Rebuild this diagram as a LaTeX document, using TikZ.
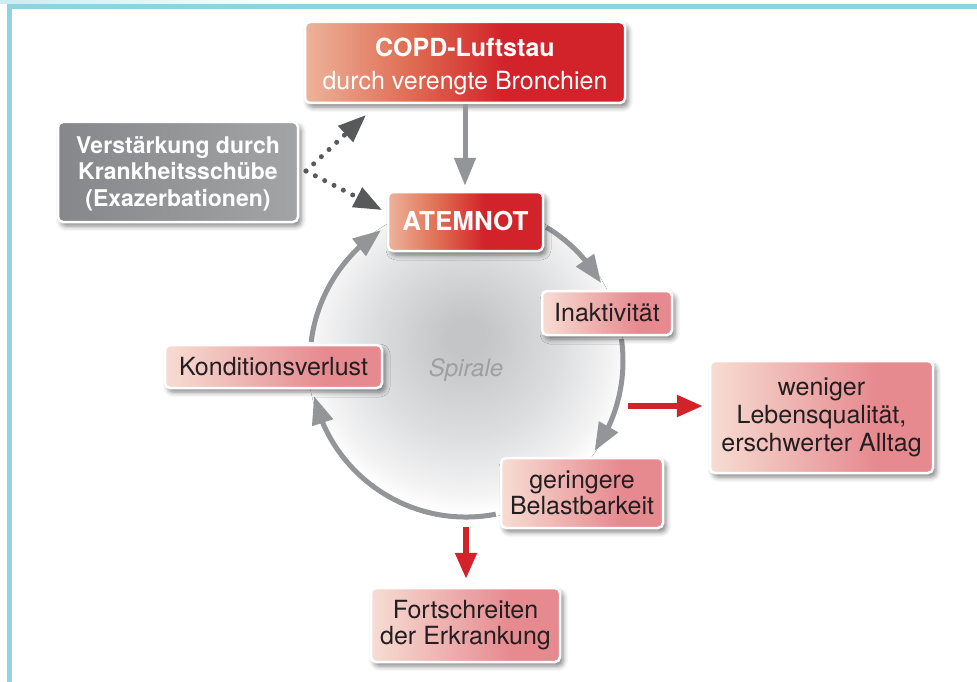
\documentclass[tikz,border=0pt]{standalone}
\usepackage{fontspec}
\setmainfont{TeX Gyre Heros}
\usetikzlibrary{arrows.meta,shadows.blur,bending,calc}
\definecolor{fb}{HTML}{8DD4E0}
\definecolor{redA}{HTML}{EDB39B}
\definecolor{redB}{HTML}{DE6A50}
\definecolor{redC}{HTML}{D2232A}
\definecolor{pinkA}{HTML}{F7DDD3}
\definecolor{pinkB}{HTML}{E68A90}
\definecolor{greyA}{HTML}{86878A}
\definecolor{greyB}{HTML}{A3A4A6}
\definecolor{arrgray}{HTML}{939598}
\definecolor{dotgray}{HTML}{58595B}
\definecolor{arrred}{HTML}{D2232A}
\definecolor{txt}{HTML}{231F20}
\definecolor{spir}{HTML}{9D9FA2}
\definecolor{discC}{HTML}{C4C5C7}
\definecolor{discM}{HTML}{DDDEDF}
\definecolor{discO}{HTML}{F3F3F4}
\pgfdeclarehorizontalshading{redsh}{100bp}{color(0bp)=(redA); color(25bp)=(redA); color(42bp)=(redB); color(56bp)=(redC); color(100bp)=(redC)}
\pgfdeclarehorizontalshading{pinksh}{100bp}{color(0bp)=(pinkA); color(25bp)=(pinkA); color(62bp)=(pinkB); color(100bp)=(pinkB)}
\pgfdeclarehorizontalshading{greysh}{100bp}{color(0bp)=(greyA); color(25bp)=(greyA); color(75bp)=(greyB); color(100bp)=(greyB)}
\pgfdeclareradialshading{discsh}{\pgfpoint{0bp}{4bp}}{color(0bp)=(discC); color(3bp)=(discC); color(15bp)=(discM); color(23bp)=(discO); color(26bp)=(white); color(50bp)=(white)}
\tikzset{
  box/.style={draw=white, line width=2.5pt, rounded corners=5pt, inner sep=0pt, align=center,
    blur shadow={shadow xshift=3pt, shadow yshift=-4pt, shadow blur radius=5pt, shadow opacity=50}},
  redbox/.style={box, shading=redsh, text=white},
  pinkbox/.style={box, shading=pinksh, text=txt, font=\fontsize{25}{26}\selectfont},
  greybox/.style={box, shading=greysh, text=white, font=\bfseries\fontsize{23}{26.5}\selectfont},
  garr/.style={draw=arrgray, line width=5pt, -{Triangle[length=28pt,width=21pt]}},
  rarr/.style={draw=arrred, line width=5.5pt, -{Triangle[length=26pt,width=21pt]}},
  darr/.style={draw=dotgray, line width=5pt, line cap=round, dash pattern=on 0pt off 10.5pt, -{Triangle[length=28pt,width=21pt]}},
}
\begin{document}
\begin{tikzpicture}[x=1pt,y=1pt]
\useasboundingbox (0,0) rectangle (977,-682);
% frame
\fill[left color=fb!45, right color=white] (0,0) rectangle (300,-4);
\fill[fb] (7,-4) rectangle (977,-9);
\fill[fb] (7,-4) rectangle (12,-682);
% spiral disc
\coordinate (c) at (466,-361);
\fill[shading=discsh] (c) circle[radius=158];
\node[font=\itshape\fontsize{24}{28}\selectfont, text=spir] (spi) at (466,-370) {Spirale};
% arcs
\draw[garr] ($(c)+(59:156)$) arc[start angle=59, end angle=30, radius=156];
\draw[garr] ($(c)+(8:157)$) arc[start angle=8, end angle=-35, radius=157];
\draw[garr] ($(c)+(-79:156)$) arc[start angle=-79, end angle=-167, radius=156];
\draw[garr] ($(c)+(173:156)$) arc[start angle=173, end angle=123, radius=156];
% nodes
\node[redbox, font=\fontsize{25}{33}\selectfont, minimum width=320pt, minimum height=81pt] (copd) at (465,-62.5)
  {\rule{0pt}{27pt}{\bfseries COPD-Luftstau}\\durch verengte Bronchien};
\node[greybox, minimum width=240pt, minimum height=100pt] (grey) at (178,-172)
  {\rule{0pt}{20pt}Verstärkung durch\\Krankheitsschübe\\(Exazerbationen)};
\node[redbox, font=\bfseries\fontsize{26}{30}\selectfont, minimum width=155pt, minimum height=59pt] (atem) at (465.5,-221.5) {ATEMNOT};
\node[pinkbox, minimum width=130pt, minimum height=44pt] (inak) at (607,-313) {Inaktivität};
\node[pinkbox, minimum width=217pt, minimum height=43pt] (kond) at (273.5,-366.5) {Konditionsverlust};
\node[pinkbox, font=\fontsize{25}{28}\selectfont, minimum width=223pt, minimum height=112pt] (wen) at (821.5,-417)
  {weniger\\Lebensqualität,\\erschwerter Alltag};
\node[pinkbox, minimum width=162pt, minimum height=70pt] (ger) at (582,-493) {geringere\\Belastbarkeit};
\node[pinkbox, minimum width=189pt, minimum height=74pt] (fort) at (465.5,-625) {Fortschreiten\\der Erkrankung};
% straight arrows
\draw[garr, shorten >=5pt] (copd.south) -- (copd.south |- atem.north);
\coordinate (r1) at (628,-406);
\draw[rarr, shorten >=6pt] (r1) -- (r1 -| wen.west);
\coordinate (r2) at (466,-527);
\draw[rarr, shorten >=8pt] (r2) -- (r2 |- fort.north);
% dotted arrows
\coordinate (d0) at (306,-171);
\coordinate (t1) at (366,-115);
\coordinate (t2) at (382,-210);
\draw[darr] (d0) -- (t1);
\draw[darr] (d0) -- (t2);
\end{tikzpicture}
\end{document}
